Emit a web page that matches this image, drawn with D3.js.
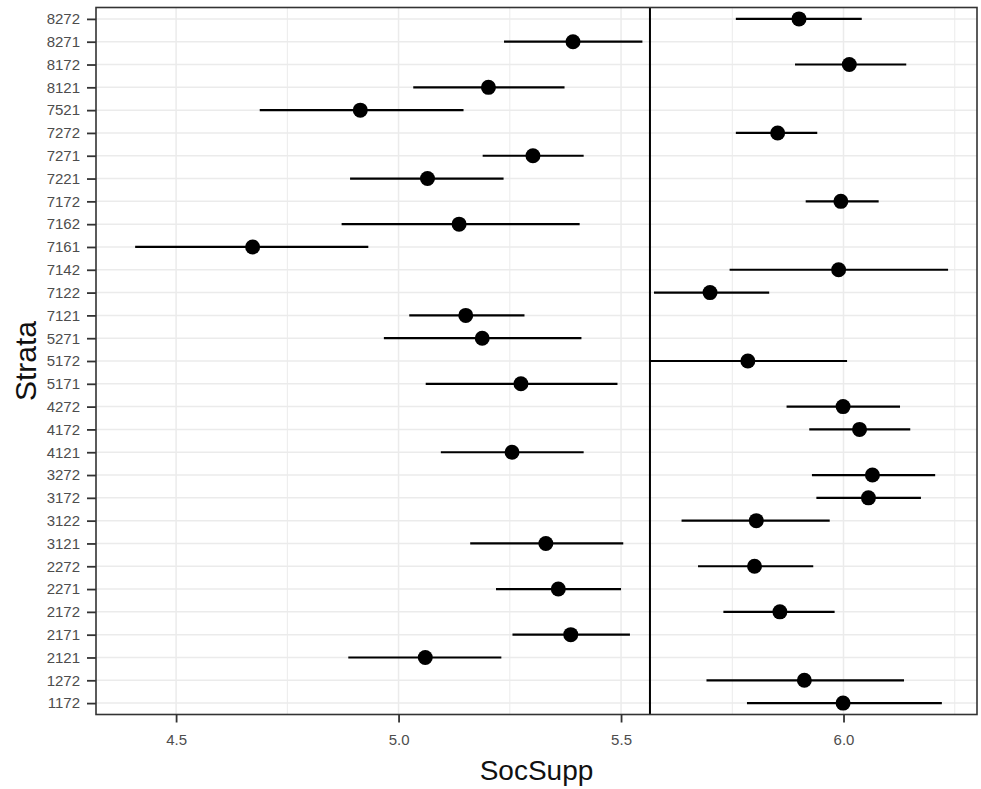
<!DOCTYPE html>
<html>
<head>
<meta charset="utf-8">
<script src="https://cdn.jsdelivr.net/npm/d3@7"></script>
<style>
body { margin: 0; background: white; }
svg { display: block; font-family: "Liberation Sans", Arial, sans-serif; }
</style>
</head>
<body>
<div id="chart"></div>
<script>
// strata listed top to bottom, as on the plot
var strata = ['8272','8271','8172','8121','7521','7272','7271','7221','7172','7162','7161',
	'7142','7122','7121','5271','5172','5171','4272','4172','4121','3272','3172','3122',
	'3121','2272','2271','2172','2171','2121','1272','1172']

var estimate = [5.900, 5.392, 6.013, 5.202, 4.914, 5.852, 5.302, 5.065, 5.994, 5.136, 4.672,
	5.989, 5.700, 5.151, 5.188, 5.785, 5.275, 5.999, 6.036, 5.255, 6.065, 6.056, 5.804,
	5.331, 5.800, 5.359, 5.857, 5.387, 5.060, 5.912, 5.999]

var lower = [5.758, 5.237, 5.891, 5.033, 4.688, 5.758, 5.189, 4.891, 5.915, 4.872, 4.408,
	5.744, 5.574, 5.024, 4.967, 5.565, 5.061, 5.872, 5.923, 5.095, 5.929, 5.939, 5.636,
	5.161, 5.673, 5.219, 5.730, 5.256, 4.887, 5.692, 5.783]

var upper = [6.041, 5.548, 6.141, 5.373, 5.146, 5.941, 5.416, 5.236, 6.079, 5.407, 4.932,
	6.235, 5.833, 5.283, 5.411, 6.008, 5.492, 6.127, 6.150, 5.416, 6.206, 6.174, 5.969,
	5.505, 5.932, 5.500, 5.980, 5.520, 5.231, 6.136, 6.221]

var refLine = 5.565
var xMajor = [4.5, 5.0, 5.5, 6.0]
var xMinor = [4.75, 5.25, 5.75, 6.25]
var xLimits = [4.32, 6.30]

var width = 981, height = 789
var panel = {left: 96, right: 977, top: 7.5, bottom: 714.5}

var rows = strata.map(function(d, i){
	return {name: d, est: estimate[i], lo: lower[i], hi: upper[i]}
})

var svg = d3.select('#chart').append('svg')
	.attr('width', width)
	.attr('height', height)

var x = d3.scaleLinear().domain(xLimits).range([panel.left, panel.right])
var y = d3.scalePoint().domain(strata).range([panel.top, panel.bottom]).padding(0.5)

// grid
var grid = svg.append('g')
grid.selectAll('.minor').data(xMinor.filter(function(d){ return d > xLimits[0] && d < xLimits[1] }))
	.enter().append('line')
	.attr('x1', x).attr('x2', x)
	.attr('y1', panel.top).attr('y2', panel.bottom)
	.attr('stroke', '#EBEBEB').attr('stroke-width', 1)
grid.selectAll('.majorx').data(xMajor).enter().append('line')
	.attr('x1', x).attr('x2', x)
	.attr('y1', panel.top).attr('y2', panel.bottom)
	.attr('stroke', '#EBEBEB').attr('stroke-width', 1.5)
grid.selectAll('.majory').data(strata).enter().append('line')
	.attr('x1', panel.left).attr('x2', panel.right)
	.attr('y1', y).attr('y2', y)
	.attr('stroke', '#EBEBEB').attr('stroke-width', 1.5)

// reference line
svg.append('line')
	.attr('x1', x(refLine)).attr('x2', x(refLine))
	.attr('y1', panel.top).attr('y2', panel.bottom)
	.attr('stroke', 'black').attr('stroke-width', 2)

// intervals + points
svg.append('g').selectAll('line').data(rows).enter().append('line')
	.attr('x1', function(d){ return x(d.lo) })
	.attr('x2', function(d){ return x(d.hi) })
	.attr('y1', function(d){ return y(d.name) })
	.attr('y2', function(d){ return y(d.name) })
	.attr('stroke', 'black').attr('stroke-width', 2.2)

svg.append('g').selectAll('circle').data(rows).enter().append('circle')
	.attr('cx', function(d){ return x(d.est) })
	.attr('cy', function(d){ return y(d.name) })
	.attr('r', 7.5)
	.attr('fill', 'black')

// panel border
svg.append('rect')
	.attr('x', panel.left).attr('y', panel.top)
	.attr('width', panel.right - panel.left)
	.attr('height', panel.bottom - panel.top)
	.attr('fill', 'none').attr('stroke', '#333333').attr('stroke-width', 1.6)

// axes
var xAxis = svg.append('g')
	.attr('transform', 'translate(0,' + panel.bottom + ')')
	.call(d3.axisBottom(x).tickValues(xMajor).tickFormat(d3.format('.1f')).tickSize(8).tickPadding(12))
var yAxis = svg.append('g')
	.attr('transform', 'translate(' + panel.left + ',0)')
	.call(d3.axisLeft(y).tickSize(9).tickPadding(7))

;[xAxis, yAxis].forEach(function(a){
	a.select('.domain').remove()
	a.selectAll('.tick line').attr('stroke', '#333333').attr('stroke-width', 1.8)
	a.selectAll('.tick text')
		.attr('fill', '#4D4D4D')
		.style('font-size', '15px')
		.style('font-family', '"Liberation Sans", Arial, sans-serif')
})

// titles
svg.append('text')
	.attr('x', (panel.left + panel.right) / 2)
	.attr('y', 780)
	.attr('text-anchor', 'middle')
	.style('font-size', '28px')
	.attr('fill', '#111')
	.text('SocSupp')

svg.append('text')
	.attr('transform', 'translate(36,' + (panel.top + panel.bottom) / 2 + ') rotate(-90)')
	.attr('text-anchor', 'middle')
	.style('font-size', '30px')
	.attr('fill', '#111')
	.text('Strata')
</script>
</body>
</html>
